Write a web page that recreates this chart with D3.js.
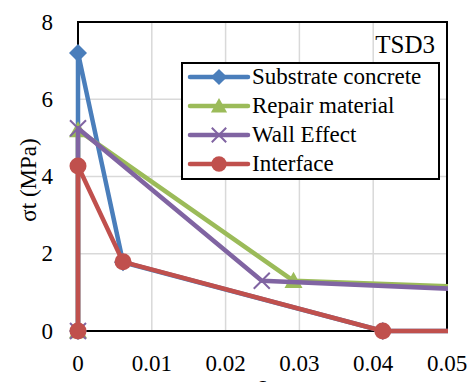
<!DOCTYPE html>
<html><head><meta charset="utf-8">
<script src="https://cdn.jsdelivr.net/npm/d3@7"></script>
<style>
body{margin:0;background:#fff}
#wrap{position:relative;width:473px;height:382px;overflow:hidden}
#wrap svg{position:absolute;left:0;top:0}
.lbl{position:absolute;white-space:nowrap;line-height:1;color:#000;font-family:"Liberation Serif","Times New Roman",Tinos,serif}
</style>
</head><body>
<div id="wrap"></div>
<script>
const xTicks = [0, 0.01, 0.02, 0.03, 0.04, 0.05];
const yTicks = [0, 2, 4, 6, 8];
const seriesNames = ["Substrate concrete", "Repair material", "Wall Effect", "Interface"];
const substrateX = [0, 0, 0.0061, 0.0413, 0.056];
const substrateY = [0, 7.2, 1.78, 0, 0];
const repairX = [0, 0, 0.0292, 0.056];
const repairY = [0, 5.2, 1.3, 1.12];
const wallX = [0, 0, 0.0249, 0.056];
const wallY = [0, 5.25, 1.3, 1.05];
const interfaceX = [0, 0, 0.0061, 0.0413, 0.056];
const interfaceY = [0, 4.27, 1.79, 0, 0];
const colors = ["#4A7EBB", "#9BBB59", "#8064A2", "#C0504D"];
const markerTypes = ["diamond", "triangle", "cross", "circle"];

const W = 473, H = 382;
const mg = {l: 78, r: 26, t: 22, b: 51};
const wrap = d3.select("#wrap");
const svg = wrap.append("svg").attr("width", W).attr("height", H);
const xs = d3.scaleLinear().domain([0, 0.05]).range([mg.l, W - mg.r]);
const ys = d3.scaleLinear().domain([0, 8]).range([H - mg.b, mg.t]);

// HTML text label: (x, baseline y), anchor start|middle|end
function label(x, base, text, size, anchor) {
  const tx = anchor === "middle" ? "-50%" : anchor === "end" ? "-100%" : "0";
  return wrap.append("div").attr("class", "lbl")
    .style("left", x + "px").style("top", (base - 0.8375 * size) + "px")
    .style("font-size", size + "px").style("transform", `translateX(${tx})`).text(text);
}

// grid
svg.append("g").selectAll("line").data(xTicks.slice(1, -1)).join("line")
  .attr("x1", d => xs(d)).attr("x2", d => xs(d)).attr("y1", ys(0)).attr("y2", ys(8))
  .attr("stroke", "#d9d9d9").attr("stroke-width", 1.5);
svg.append("g").selectAll("line").data(yTicks.slice(1, -1)).join("line")
  .attr("x1", xs(0)).attr("x2", xs(0.05)).attr("y1", d => ys(d)).attr("y2", d => ys(d))
  .attr("stroke", "#d9d9d9").attr("stroke-width", 1.5);

// tick labels
const xFmt = d => d === 0 ? "0" : d3.format(".2f")(d);
xTicks.forEach(t => label(xs(t), 371, xFmt(t), 23, "middle"));
yTicks.forEach(t => label(53, ys(t) + 8, String(t), 23, "end"));

// plot border
svg.append("rect").attr("x", xs(0)).attr("y", ys(8)).attr("width", xs(0.05) - xs(0)).attr("height", ys(0) - ys(8))
  .attr("fill", "none").attr("stroke", "#000").attr("stroke-width", 2);

svg.append("defs").append("clipPath").attr("id", "clip").append("rect")
  .attr("x", xs(0) - 12).attr("y", ys(8)).attr("width", xs(0.05) - xs(0) + 13).attr("height", ys(0) - ys(8) + 20);

const data = [[substrateX, substrateY], [repairX, repairY], [wallX, wallY], [interfaceX, interfaceY]];
const lineGen = d3.line().x(d => xs(d[0])).y(d => ys(d[1]));

function drawMarker(g, type, color, cx, cy, s) {
  if (type === "diamond") {
    g.append("path").attr("d", `M${cx},${cy - s}L${cx + s},${cy}L${cx},${cy + s}L${cx - s},${cy}Z`).attr("fill", color);
  } else if (type === "triangle") {
    g.append("path").attr("d", `M${cx},${cy - s}L${cx + s},${cy + s * 0.8}L${cx - s},${cy + s * 0.8}Z`).attr("fill", color);
  } else if (type === "cross") {
    g.append("path").attr("d", `M${cx - s},${cy - s}L${cx + s},${cy + s}M${cx - s},${cy + s}L${cx + s},${cy - s}`)
      .attr("stroke", color).attr("stroke-width", 2);
  } else {
    g.append("circle").attr("cx", cx).attr("cy", cy).attr("r", s).attr("fill", color);
  }
}
const sizes = [9, 9, 8, 8.5];

const plot = svg.append("g").attr("clip-path", "url(#clip)");
data.forEach(([sx, sy], i) => {
  const pts = sx.map((v, k) => [v, sy[k]]);
  const g = plot.append("g");
  g.append("path").datum(pts).attr("d", lineGen).attr("fill", "none").attr("stroke", colors[i])
    .attr("stroke-width", 4.5).attr("stroke-linejoin", "round");
  pts.filter(p => p[0] <= 0.05).forEach(p => drawMarker(g, markerTypes[i], colors[i], xs(p[0]), ys(p[1]), sizes[i]));
});

// legend
const lg = svg.append("g");
lg.append("rect").attr("x", 182).attr("y", 63).attr("width", 257).attr("height", 116)
  .attr("fill", "#fff").attr("stroke", "#000").attr("stroke-width", 2);
seriesNames.forEach((n, i) => {
  const cy = 77 + i * 29;
  lg.append("line").attr("x1", 190).attr("x2", 248).attr("y1", cy).attr("y2", cy)
    .attr("stroke", colors[i]).attr("stroke-width", 4.5).attr("stroke-linecap", "round");
  drawMarker(lg, markerTypes[i], colors[i], 219, cy, sizes[i] * 0.9);
  label(252, cy + 7, n, 23, "start");
});

// TSD3
label(435, 53, "TSD3", 25, "end");

// axis titles
wrap.append("div").attr("class", "lbl").style("left", "28px").style("top", "180px")
  .style("font-size", "23px").style("transform", "translate(-50%,-50%) rotate(-90deg)").text("σt (MPa)");
label(262, 392, "ε", 23, "middle");
</script>
</body></html>
